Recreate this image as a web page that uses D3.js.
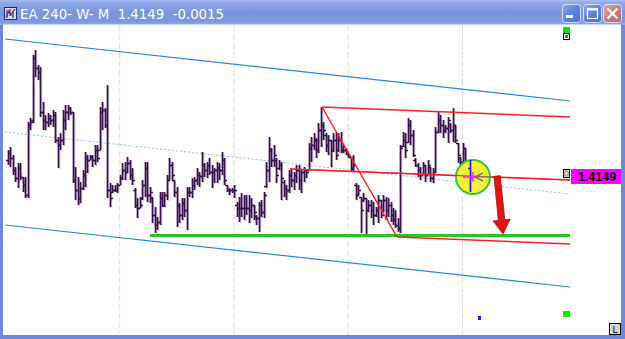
<!DOCTYPE html>
<html><head><meta charset="utf-8">
<script src="https://cdn.jsdelivr.net/npm/d3@7"></script>
<style>html,body{margin:0;padding:0;background:#fff;overflow:hidden}</style>
</head><body>
<svg id="c" width="625" height="339"></svg>
<script>
const titleText = "EA 240- W- M  1.4149  -0.0015";
const lastPriceLabel = "1.4149";
const lastPrice = 1.4149;

const highs = [
1.4176,1.4179,1.4171,1.4159,1.4163,1.4163,1.4149,1.4149,1.4204,1.4208,
1.4271,1.4276,1.4261,1.4259,1.4224,1.4211,1.4213,1.4211,1.4216,1.4214,
1.4189,1.4193,1.4216,1.4221,1.4221,1.4219,1.4214,1.4159,1.4149,1.4144,
1.4156,1.4174,1.4171,1.4171,1.4171,1.4181,1.4181,1.4219,1.4224,1.4218,
1.4241,1.4143,1.4141,1.4141,1.4143,1.4151,1.4163,1.4164,1.4169,1.4166,
1.4158,1.4138,1.4128,1.4129,1.4146,1.4164,1.4164,1.4139,1.4129,1.4119,
1.4109,1.4134,1.4134,1.4134,1.4151,1.4168,1.4164,1.4146,1.4139,1.4123,
1.4128,1.4128,1.4139,1.4139,1.4148,1.4149,1.4158,1.4154,1.4174,1.4163,
1.4164,1.4168,1.4161,1.4158,1.4164,1.4163,1.4174,1.4168,1.4141,1.4138,
1.4138,1.4141,1.4124,1.4129,1.4133,1.4131,1.4131,1.4131,1.4128,1.4121,
1.4111,1.4124,1.4126,1.4134,1.4164,1.4189,1.4178,1.4181,1.4168,1.4166,
1.4164,1.4146,1.4141,1.4156,1.4156,1.4154,1.4161,1.4161,1.4156,1.4159,
1.4156,1.4183,1.4189,1.4193,1.4188,1.4203,1.4219,1.4204,1.4193,1.4191,
1.4186,1.4193,1.4194,1.4193,1.4194,1.4181,1.4178,1.4173,1.4169,1.4171,
1.4143,1.4141,1.4129,1.4133,1.4128,1.4126,1.4126,1.4124,1.4119,1.4131,
1.4126,1.4131,1.4129,1.4128,1.4124,1.4118,1.4116,1.4108,1.4181,1.4194,
1.4193,1.4208,1.4206,1.4196,1.4168,1.4163,1.4159,1.4164,1.4161,1.4166,
1.4159,1.4158,1.4199,1.4214,1.4211,1.4206,1.4201,1.4209,1.4203,1.4218,
1.4201,1.4183,1.4169,1.4183,1.4178,1.4156,1.4166];

const lows = [
1.4161,1.4159,1.4151,1.4144,1.4138,1.4146,1.4134,1.4128,1.4128,1.4196,
1.4203,1.4249,1.4246,1.4209,1.4196,1.4196,1.4199,1.4201,1.4199,1.4183,
1.4158,1.4176,1.4181,1.4196,1.4206,1.4211,1.4143,1.4126,1.4121,1.4123,
1.4136,1.4139,1.4153,1.4166,1.4159,1.4161,1.4164,1.4176,1.4196,1.4198,
1.4128,1.4119,1.4133,1.4134,1.4133,1.4141,1.4146,1.4146,1.4153,1.4146,
1.4141,1.4118,1.4108,1.4118,1.4126,1.4129,1.4124,1.4123,1.4103,1.4093,
1.4096,1.4101,1.4119,1.4119,1.4126,1.4146,1.4146,1.4129,1.4099,1.4103,
1.4106,1.4109,1.4096,1.4129,1.4128,1.4136,1.4141,1.4139,1.4144,1.4149,
1.4148,1.4151,1.4138,1.4143,1.4143,1.4146,1.4151,1.4141,1.4134,1.4131,
1.4133,1.4128,1.4109,1.4104,1.4109,1.4106,1.4111,1.4103,1.4108,1.4106,
1.4101,1.4094,1.4109,1.4108,1.4138,1.4144,1.4159,1.4159,1.4143,1.4156,
1.4126,1.4129,1.4126,1.4133,1.4139,1.4136,1.4143,1.4136,1.4133,1.4144,
1.4148,1.4156,1.4164,1.4176,1.4168,1.4173,1.4179,1.4186,1.4174,1.4171,
1.4159,1.4174,1.4166,1.4174,1.4173,1.4173,1.4171,1.4168,1.4154,1.4154,
1.4126,1.4131,1.4093,1.4124,1.4091,1.4114,1.4108,1.4101,1.4109,1.4103,
1.4108,1.4114,1.4106,1.4109,1.4104,1.4101,1.4098,1.4094,1.4093,1.4179,
1.4168,1.4183,1.4181,1.4169,1.4159,1.4149,1.4146,1.4151,1.4144,1.4151,
1.4144,1.4143,1.4153,1.4193,1.4193,1.4188,1.4193,1.4183,1.4193,1.4184,
1.4183,1.4163,1.4159,1.4164,1.4158,1.4144,1.4134];

const opens = [
1.4166,1.4173,1.4168,1.4156,1.4148,1.4158,1.4149,1.4141,1.4131,1.4201,
1.4206,1.4268,1.4258,1.4254,1.4214,1.4206,1.4204,1.4208,1.4206,1.4211,
1.4186,1.4181,1.4186,1.4206,1.4214,1.4218,1.4214,1.4146,1.4136,1.4128,
1.4138,1.4151,1.4168,1.4166,1.4169,1.4166,1.4176,1.4176,1.4214,1.4216,
1.4201,1.4136,1.4134,1.4136,1.4136,1.4141,1.4148,1.4156,1.4154,1.4163,
1.4151,1.4136,1.4121,1.4118,1.4128,1.4141,1.4158,1.4131,1.4128,1.4111,
1.4101,1.4104,1.4128,1.4121,1.4131,1.4146,1.4161,1.4146,1.4134,1.4121,
1.4111,1.4123,1.4116,1.4134,1.4134,1.4141,1.4146,1.4151,1.4150,1.4161,
1.4156,1.4161,1.4154,1.4154,1.4156,1.4158,1.4156,1.4166,1.4141,1.4136,
1.4136,1.4136,1.4121,1.4118,1.4118,1.4118,1.4118,1.4118,1.4116,1.4121,
1.4110,1.4108,1.4121,1.4114,1.4140,1.4156,1.4176,1.4166,1.4166,1.4158,
1.4161,1.4144,1.4138,1.4136,1.4151,1.4146,1.4151,1.4156,1.4146,1.4154,
1.4156,1.4156,1.4178,1.4181,1.4186,1.4176,1.4196,1.4201,1.4191,1.4181,
1.4186,1.4176,1.4186,1.4176,1.4186,1.4176,1.4176,1.4172,1.4169,1.4158,
1.4141,1.4131,1.4129,1.4126,1.4128,1.4116,1.4121,1.4116,1.4111,1.4116,
1.4126,1.4116,1.4126,1.4116,1.4121,1.4111,1.4106,1.4101,1.4098,1.4180,
1.4186,1.4184,1.4201,1.4191,1.4166,1.4161,1.4156,1.4151,1.4161,1.4151,
1.4159,1.4148,1.4154,1.4194,1.4206,1.4201,1.4196,1.4198,1.4201,1.4196,
1.4201,1.4183,1.4168,1.4164,1.4178,1.4156,1.4158];

const closes = [
1.4173,1.4168,1.4156,1.4148,1.4158,1.4149,1.4141,1.4131,1.4201,1.4204,
1.4268,1.4258,1.4254,1.4214,1.4206,1.4204,1.4208,1.4206,1.4211,1.4186,
1.4181,1.4186,1.4206,1.4214,1.4218,1.4214,1.4146,1.4136,1.4128,1.4138,
1.4151,1.4168,1.4166,1.4169,1.4166,1.4176,1.4168,1.4214,1.4216,1.4201,
1.4136,1.4128,1.4136,1.4136,1.4141,1.4148,1.4156,1.4154,1.4163,1.4151,
1.4146,1.4121,1.4118,1.4121,1.4141,1.4158,1.4131,1.4134,1.4111,1.4101,
1.4104,1.4128,1.4121,1.4131,1.4146,1.4161,1.4151,1.4134,1.4121,1.4111,
1.4123,1.4116,1.4134,1.4134,1.4141,1.4146,1.4151,1.4150,1.4161,1.4156,
1.4161,1.4154,1.4154,1.4156,1.4158,1.4156,1.4166,1.4146,1.4136,1.4136,
1.4136,1.4136,1.4118,1.4118,1.4118,1.4118,1.4118,1.4116,1.4121,1.4114,
1.4108,1.4121,1.4114,1.4131,1.4156,1.4176,1.4166,1.4171,1.4151,1.4161,
1.4148,1.4138,1.4136,1.4151,1.4146,1.4151,1.4156,1.4146,1.4154,1.4156,
1.4154,1.4178,1.4181,1.4186,1.4176,1.4196,1.4201,1.4196,1.4181,1.4186,
1.4176,1.4186,1.4171,1.4186,1.4176,1.4176,1.4174,1.4170,1.4158,1.4161,
1.4131,1.4136,1.4116,1.4128,1.4116,1.4121,1.4116,1.4111,1.4116,1.4126,
1.4111,1.4126,1.4116,1.4121,1.4111,1.4106,1.4101,1.4098,1.4178,1.4186,
1.4176,1.4201,1.4191,1.4171,1.4161,1.4156,1.4151,1.4161,1.4151,1.4161,
1.4148,1.4154,1.4194,1.4206,1.4201,1.4196,1.4198,1.4206,1.4196,1.4201,
1.4186,1.4171,1.4164,1.4178,1.4161,1.4148,1.4149];

// vertical grid separators (bar index)
const gridBars = [45, 91, 137, 183];

// drawn objects: [barIndex, price] endpoints
const channelUpper = [[-1.21, 1.4287], [226.26, 1.4225]];
const channelMid   = [[-1.21, 1.4194], [226.26, 1.4132]];
const channelLower = [[-1.21, 1.4101], [226.26, 1.4039]];
const redUpper = [[126.42, 1.4219], [226.26, 1.4209]];
const redMid   = [[113.53, 1.4157], [226.26, 1.4146]];
const redLower = [[156.61, 1.4089], [226.26, 1.4082]];
const redDiag  = [[126.42, 1.4219], [156.61, 1.4089]];
const greenSupport = [[57.17, 1.40905], [226.26, 1.40905]];
const arrowPts = [[196.9, 1.4150], [199.3, 1.4092]];
const circleCenter = [187.2, 1.4149];

const svg = d3.select("#c");
const W = 625, H = 339;
const x = d3.scaleLinear().domain([0, highs.length - 1]).range([8, 470]);
const y = d3.scaleLinear().domain([1.4001, 1.4301]).range([325, 25]);

const defs = svg.append("defs");
const tg = defs.append("linearGradient").attr("id","tg").attr("x1",0).attr("y1",0).attr("x2",0).attr("y2",1);
[[0,"#a9bcf2"],[0.12,"#8fa8ec"],[0.5,"#7a95e0"],[0.85,"#7d98e3"],[1,"#90a8ea"]].forEach(s=>tg.append("stop").attr("offset",s[0]).attr("stop-color",s[1]));
const bg = defs.append("linearGradient").attr("id","bg").attr("x1",0).attr("y1",0).attr("x2",1).attr("y2",1);
[[0,"#8aa6f4"],[0.5,"#5b80e6"],[1,"#4a6fd8"]].forEach(s=>bg.append("stop").attr("offset",s[0]).attr("stop-color",s[1]));
const cg = defs.append("linearGradient").attr("id","cg").attr("x1",0).attr("y1",0).attr("x2",1).attr("y2",1);
[[0,"#e0a3aa"],[0.5,"#cc7d86"],[1,"#b8636e"]].forEach(s=>cg.append("stop").attr("offset",s[0]).attr("stop-color",s[1]));

// window frame
svg.append("rect").attr("x",0).attr("y",0).attr("width",W).attr("height",H).attr("fill","#7088dc");
svg.append("rect").attr("x",0).attr("y",0).attr("width",W).attr("height",25).attr("fill","url(#tg)");
svg.append("rect").attr("x",3).attr("y",24).attr("width",618).attr("height",311).attr("fill","#ffffff");
svg.append("line").attr("x1",3).attr("x2",621).attr("y1",24.5).attr("y2",24.5).attr("stroke","#c9d3f2").attr("stroke-width",1);

// title icon
const ic = svg.append("g");
ic.append("rect").attr("x",4.5).attr("y",7.5).attr("width",12).attr("height",12).attr("fill","#d8def4").attr("stroke","#1c2a78");
ic.append("path").attr("d","M6,17 L9,11 L11,15 L15,9").attr("fill","none").attr("stroke","#c01818").attr("stroke-width",1.3);
ic.append("path").attr("d","M7,10 V18 M10,9 V16 M13,11 V18").attr("stroke","#1a3aa8").attr("stroke-width",1.2);

svg.append("text").attr("x",20).attr("y",18.5).attr("fill","#ffffff")
  .attr("font-family","'DejaVu Sans', Verdana, sans-serif").attr("font-size",13.3)
  .attr("xml:space","preserve").style("white-space","pre").text(titleText);

// window buttons
[[562,"url(#bg)"],[583,"url(#bg)"],[603,"url(#cg)"]].forEach(b=>{
  svg.append("rect").attr("x",b[0]+0.5).attr("y",4.5).attr("width",18).attr("height",18).attr("rx",3)
    .attr("fill",b[1]).attr("stroke","#eef2ff").attr("stroke-opacity",0.8);
});
svg.append("rect").attr("x",566).attr("y",15).attr("width",7).attr("height",3).attr("fill","#fff");
svg.append("rect").attr("x",587.5).attr("y",8.5).attr("width",10).attr("height",10).attr("fill","none").attr("stroke","#fff").attr("stroke-width",1.2);
svg.append("rect").attr("x",587).attr("y",8).attr("width",11).attr("height",2.5).attr("fill","#fff");
svg.append("path").attr("d","M607.5,8.5 L617.5,18.5 M617.5,8.5 L607.5,18.5").attr("stroke","#fff").attr("stroke-width",2.2);

const plot = svg.append("g");
plot.append("clipPath").attr("id","pc").append("rect").attr("x",3).attr("y",25).attr("width",618).attr("height",310);
const g = plot.append("g").attr("clip-path","url(#pc)");

// grid separators
g.selectAll(".grid").data(gridBars).join("line")
  .attr("x1",d=>x(d)).attr("x2",d=>x(d)).attr("y1",25).attr("y2",335)
  .attr("stroke","#dcdcdc").attr("stroke-width",1).attr("stroke-dasharray","6,3");

const ln = (pts, color, w, dash) => g.append("line")
  .attr("x1",x(pts[0][0])).attr("y1",y(pts[0][1])).attr("x2",x(pts[1][0])).attr("y2",y(pts[1][1]))
  .attr("stroke",color).attr("stroke-width",w).attr("stroke-dasharray",dash||null);

ln(channelUpper, "#2784f2", 1.2);
ln(channelLower, "#2784f2", 1.2);
ln(channelMid, "#86c0fb", 1, "2,2");

// bars
const bars = highs.map((h,i)=>({i, h, l: lows[i], o: opens[i], c: closes[i]}));
const purple = bars.slice(0, bars.length-1);
const last = bars[bars.length-1];
const barG = g.append("g");
function drawBar(sel, d, color, shade) {
  const xx = Math.round(x(d.i)) + 0.5;
  if (shade) sel.append("line").attr("x1",xx+1.2).attr("x2",xx+1.2).attr("y1",y(d.h)+1).attr("y2",y(d.l)+1).attr("stroke",shade).attr("stroke-width",1);
  sel.append("line").attr("x1",xx).attr("x2",xx).attr("y1",y(d.h)).attr("y2",y(d.l)).attr("stroke",color).attr("stroke-width",1.7);
  sel.append("line").attr("x1",xx-2.5).attr("x2",xx).attr("y1",Math.round(y(d.o))+0.5).attr("y2",Math.round(y(d.o))+0.5).attr("stroke",color).attr("stroke-width",1.5);
  sel.append("line").attr("x1",xx).attr("x2",xx+2.5).attr("y1",Math.round(y(d.c))+0.5).attr("y2",Math.round(y(d.c))+0.5).attr("stroke",color).attr("stroke-width",1.5);
}
purple.forEach(d=>drawBar(barG, d, "#36104a", "#cdbddb"));

// support / resistance lines
ln(greenSupport, "#27c42a", 3);
ln(redUpper, "#ff2020", 1.5);
ln(redMid, "#ff2020", 1.5);
ln(redLower, "#ff2020", 1.5);
ln(redDiag, "#ff2020", 1.5);

// highlight circle
const cx = x(circleCenter[0]), cy = y(circleCenter[1]);
g.append("circle").attr("cx",cx).attr("cy",cy).attr("r",17).attr("fill","#f2f23c").attr("stroke","#3cc43c").attr("stroke-width",2);
g.append("line").attr("x1",x(redMid[0][0])).attr("y1",y(redMid[0][1])).attr("x2",x(redMid[1][0])).attr("y2",y(redMid[1][1]))
  .attr("stroke","#ff2020").attr("stroke-width",1.2).style("opacity",0.9);
drawBar(g, last, "#2424e6", null);
g.append("line").attr("x1",cx).attr("x2",cx+19).attr("y1",cy).attr("y2",cy).attr("stroke","#20b0a0").attr("stroke-width",1);
g.append("path").attr("d",`M${cx+2},${cy} L${cx+10},${cy-4} M${cx+2},${cy} L${cx+10},${cy+4}`).attr("stroke","#304040").attr("stroke-width",1).attr("fill","none");
g.append("line").attr("x1",cx-10).attr("x2",cx+5).attr("y1",cy).attr("y2",cy).attr("stroke","#ff20ff").attr("stroke-width",1.5);
g.append("line").attr("x1",cx).attr("x2",cx).attr("y1",cy-5).attr("y2",cy+5).attr("stroke","#ff20ff").attr("stroke-width",1.5);

// arrow
(function(){
  const sx = x(arrowPts[0][0]), sy = y(arrowPts[0][1]);
  const tx = x(arrowPts[1][0]), ty = y(arrowPts[1][1]);
  const len = Math.hypot(tx-sx, ty-sy);
  const ux = (tx-sx)/len, uy = (ty-sy)/len;
  const nx = -uy, ny = ux;
  const hw = 3.2, hh = 8.5, hl = 14;
  const bx = tx - ux*hl, by = ty - uy*hl;
  const p = [
    [sx+nx*hw, sy+ny*hw],[bx+nx*hw, by+ny*hw],[bx+nx*hh, by+ny*hh],[tx,ty],
    [bx-nx*hh, by-ny*hh],[bx-nx*hw, by-ny*hw],[sx-nx*hw, sy-ny*hw]];
  g.append("path").attr("d","M"+p.map(q=>q.join(",")).join("L")+"Z")
    .attr("fill","#e41313").attr("stroke","#a30d0d").attr("stroke-width",0.8);
})();

// right side markers
svg.append("rect").attr("x",563).attr("y",27).attr("width",7).attr("height",6).attr("fill","#00ee00");
svg.append("rect").attr("x",563.5).attr("y",33.5).attr("width",6).attr("height",6).attr("fill","#fff").attr("stroke","#000");
svg.append("rect").attr("x",565).attr("y",35).attr("width",3).attr("height",3).attr("fill","#666");
svg.append("rect").attr("x",563.5).attr("y",169.5).attr("width",6).attr("height",8).attr("fill","#fff").attr("stroke","#000");
svg.append("rect").attr("x",565).attr("y",171).attr("width",3).attr("height",5).attr("fill","none").attr("stroke","#555").attr("stroke-width",0.8);
svg.append("rect").attr("x",571).attr("y",169).attr("width",50).attr("height",15).attr("fill","#ff00ff");
svg.append("text").attr("x",597).attr("y",181).attr("text-anchor","middle")
  .attr("font-family","'Liberation Sans', Arial, sans-serif").attr("font-weight","bold").attr("font-size",12.5)
  .attr("fill","#000").text(lastPriceLabel);
svg.append("rect").attr("x",563).attr("y",311).attr("width",7).attr("height",6).attr("fill","#00f000");
svg.append("rect").attr("x",478).attr("y",316).attr("width",3).attr("height",4).attr("fill","#0000ff");
svg.append("line").attr("x1",478).attr("x2",481).attr("y1",318).attr("y2",318).attr("stroke","#9999ff").attr("stroke-width",0.6);
svg.append("rect").attr("x",609.5).attr("y",323.5).attr("width",11).attr("height",11).attr("fill","#d4d4d4").attr("stroke","#000");
svg.append("text").attr("x",615).attr("y",333).attr("text-anchor","middle")
  .attr("font-family","'DejaVu Sans', sans-serif").attr("font-size",9).attr("fill","#000").text("L");
</script>
</body></html>
